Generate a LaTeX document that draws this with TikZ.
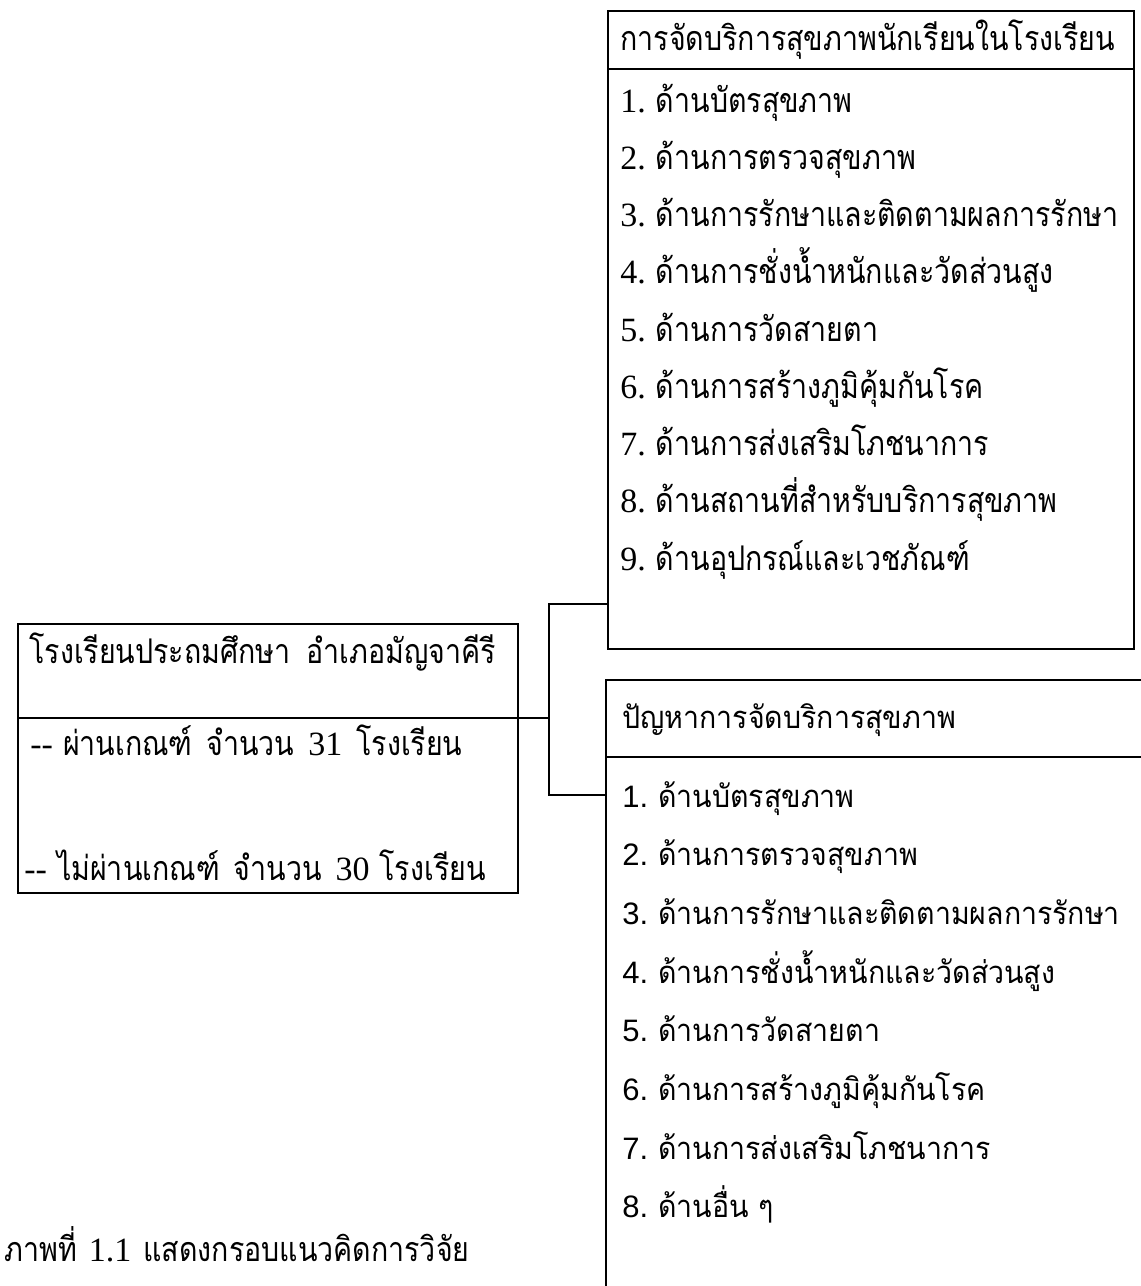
\documentclass[tikz,border=0pt]{standalone}
\usepackage{fontspec}
\newfontfamily\thaiS[Script=Thai,FakeStretch=0.84]{Loma}
\newfontfamily\thaiB[Script=Thai,FakeStretch=0.92]{Loma}
\newfontfamily\latS{Liberation Serif}
\newfontfamily\latB{Liberation Sans}
\tikzset{
  boxst/.style={draw, line width=1pt, inner sep=0pt, anchor=north west},
  divline/.style={line width=1pt},
  conn/.style={line width=0.9pt},
  sertext/.style={inner sep=0pt, anchor=base west, font=\fontsize{17pt}{20pt}\selectfont\thaiS},
  santext/.style={inner sep=0pt, anchor=base west, font=\fontsize{15.5pt}{19pt}\selectfont\thaiB},
}
\begin{document}
\begin{tikzpicture}[x=0.5pt,y=-0.5pt]
\useasboundingbox (0,0) rectangle (1141,1286);
\clip (0,0) rectangle (1141,1286);
\fill[white] (0,0) rectangle (1141,1286);
% boxes
\node[boxst, minimum width=263pt, minimum height=319pt] (topbox) at (607,10) {};
\node[boxst, minimum width=250pt, minimum height=134.5pt] (leftbox) at (17,623) {};
\node[boxst, minimum width=280pt, minimum height=312pt] (botbox) at (605,679) {};
\draw[divline] (topbox.west |- 0,69) -- (topbox.east |- 0,69);
\draw[divline] (leftbox.west |- 0,718) -- (leftbox.east |- 0,718);
\draw[divline] (botbox.west |- 0,757) -- (botbox.east |- 0,757);
% top box texts
\node[sertext] (ttitle) at (620,50) {การจัดบริการสุขภาพนักเรียนในโรงเรียน};
\foreach \t [count=\i] in {ด้านบัตรสุขภาพ, ด้านการตรวจสุขภาพ, ด้านการรักษาและติดตามผลการรักษา, ด้านการชั่งน้ำหนักและวัดส่วนสูง, ด้านการวัดสายตา, ด้านการสร้างภูมิคุ้มกันโรค, ด้านการส่งเสริมโภชนาการ, ด้านสถานที่สำหรับบริการสุขภาพ, ด้านอุปกรณ์และเวชภัณฑ์}
  \node[sertext] (t\i) at (620,{112+57.25*(\i-1)}) {{\latS\i.}\hspace{5pt}\t};
% left box texts
\node[sertext] (ltitle) at (29,663) {โรงเรียนประถมศึกษา\hspace{8pt}อำเภอมัญจาคีรี};
\node[sertext] (l1) at (30,755) {{\latS -{}-}\hspace{5pt}ผ่านเกณฑ์\hspace{7pt}จำนวน\hspace{7pt}{\latS 31}\hspace{7pt}โรงเรียน};
\node[sertext] (l2) at (24,880) {{\latS -{}-}\hspace{5pt}ไม่ผ่านเกณฑ์\hspace{7pt}จำนวน\hspace{7pt}{\latS 30}\hspace{5pt}โรงเรียน};
% bottom box texts
\node[santext] (btitle) at (622,728) {ปัญหาการจัดบริการสุขภาพ};
\foreach \t [count=\i] in {ด้านบัตรสุขภาพ, ด้านการตรวจสุขภาพ, ด้านการรักษาและติดตามผลการรักษา, ด้านการชั่งน้ำหนักและวัดส่วนสูง, ด้านการวัดสายตา, ด้านการสร้างภูมิคุ้มกันโรค, ด้านการส่งเสริมโภชนาการ, ด้านอื่น ๆ}
  \node[santext] (b\i) at (622,{807+58.7*(\i-1)}) {{\latB\i.}\hspace{5pt}\t};
% caption
\node[sertext] (cap) at (4,1261) {ภาพที่\hspace{6pt}{\latS 1.1}\hspace{6pt}แสดงกรอบแนวคิดการวิจัย};
% connectors
\coordinate (jl) at (512,718);
\coordinate (jm) at (549,718);
\coordinate (jt) at (549,604);
\coordinate (jb) at (549,795);
\draw[conn] (jl) -- (jm);
\draw[conn] (topbox.west |- jt) -- (jt) -- (jb) -- (botbox.west |- jb);
\end{tikzpicture}
\end{document}
